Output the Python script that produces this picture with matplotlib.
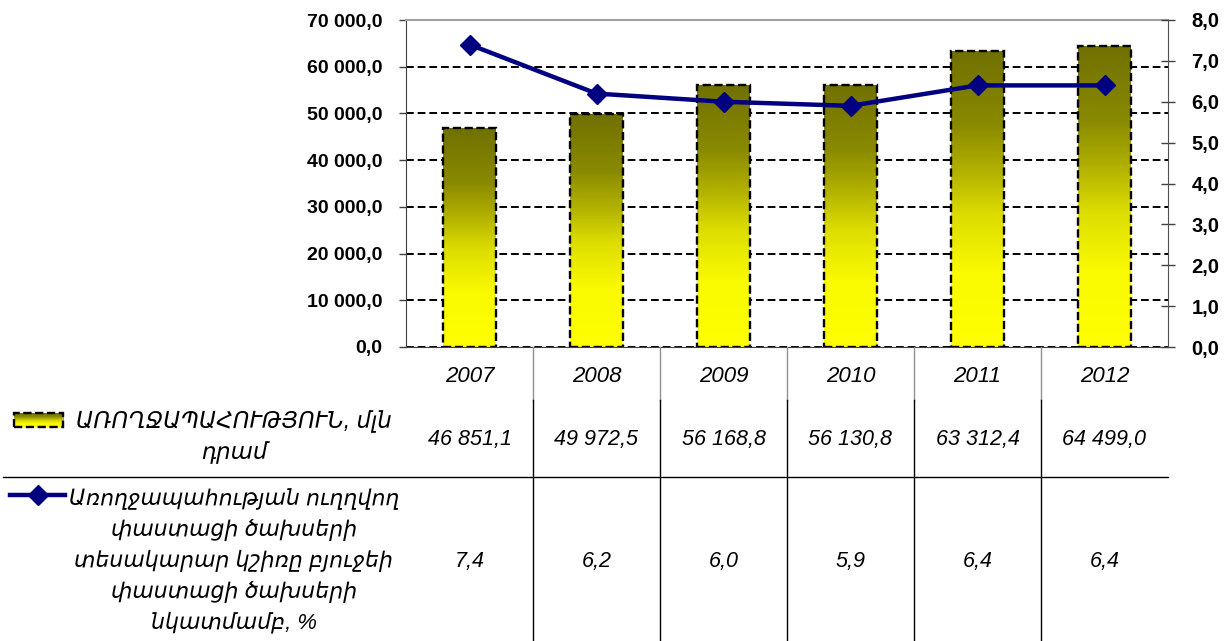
import matplotlib
matplotlib.use("Agg")
import matplotlib.pyplot as plt
import numpy as np
from matplotlib.colors import LinearSegmentedColormap
from matplotlib.lines import Line2D
from matplotlib.patches import Rectangle
from matplotlib.ticker import FuncFormatter
from matplotlib.transforms import blended_transform_factory

years = ["2007", "2008", "2009", "2010", "2011", "2012"]
health_spending = [46851.1, 49972.5, 56168.8, 56130.8, 63312.4, 64499.0]
health_share = [7.4, 6.2, 6.0, 5.9, 6.4, 6.4]

bar_label = "ԱՌՈՂՋԱՊԱՀՈՒԹՅՈՒՆ, մլն\nդրամ"
line_label = ("Առողջապահության ուղղվող\nփաստացի ծախսերի\n"
              "տեսակարար կշիռը բյուջեի\nփաստացի ծախսերի\nնկատմամբ, %")

W, H = 1230, 641
FONT = ["Liberation Sans", "DejaVu Sans"]
plt.rcParams["font.family"] = FONT


def fmt_num(v, pos=None):
    s = f"{v:,.1f}"
    return s.replace(",", " ").replace(".", ",")


def fy(py):
    # figure fraction from pixel row
    return 1 - py / H


fig = plt.figure(figsize=(W / 100, H / 100), dpi=100)
ax = fig.add_axes([406 / W, fy(347), 762 / W, 327 / H])

x = np.arange(len(years))
bar_w = 0.41
olive = LinearSegmentedColormap.from_list(
    "olive", [(0, "#ffff00"), (0.25, "#fafa00"), (0.45, "#dcdc00"),
              (0.6, "#b0b000"), (0.75, "#8a8a00"), (1, "#707000")])
grad = np.linspace(0, 1, 256).reshape(-1, 1)

bars = ax.bar(x, health_spending, width=bar_w, facecolor="none",
              edgecolor="black", linewidth=1.7, linestyle=(0, (3.5, 1.5)), zorder=3)
for b in bars:
    x0 = b.get_x()
    im = ax.imshow(grad, extent=[x0, x0 + b.get_width(), 0, b.get_height()],
                   origin="lower", cmap=olive, aspect="auto", zorder=2,
                   interpolation="bilinear")
    im.set_clip_path(b)

ax.set_xlim(-0.5, len(years) - 0.5)
ax.set_ylim(0, 70000)
ax.set_yticks(np.arange(0, 70001, 10000))
ax.yaxis.set_major_formatter(FuncFormatter(fmt_num))
ax.set_xticks([])
ax.set_axisbelow(True)
ax.yaxis.grid(True, color="black", linestyle=(0, (4, 2)), linewidth=1.4)
ax.tick_params(axis="y", direction="out", length=5, width=1, color="#404040",
               pad=12, labelsize=14)
for lab in ax.get_yticklabels():
    lab.set_fontweight("bold")
ax.spines["top"].set_color("#a0a0a0")
ax.spines["top"].set_linewidth(1.5)
ax.spines["left"].set_color("#404040")
ax.spines["bottom"].set_color("#404040")
ax.spines["right"].set_visible(False)

ax2 = ax.twinx()
ax2.plot(x, health_share, color="#000080", linewidth=3.2, marker="D",
         markersize=10.5, zorder=5)
ax2.set_ylim(0, 8)
ax2.set_yticks(np.arange(0, 8.1, 1))
ax2.yaxis.set_major_formatter(FuncFormatter(lambda v, p: f"{v:.1f}".replace(".", ",")))
ax2.tick_params(axis="y", direction="inout", length=10, width=1, color="#404040",
                pad=12, labelsize=14.5)
for lab in ax2.get_yticklabels():
    lab.set_fontweight("bold")
for s in ["top", "left", "bottom"]:
    ax2.spines[s].set_visible(False)
ax2.spines["right"].set_color("#505050")

# data table below the plot
tr = blended_transform_factory(ax.transData, fig.transFigure)
for i, yr in enumerate(years):
    fig.text(i, fy(376), yr, transform=tr, ha="center", va="center",
             fontsize=16, style="italic")
    fig.text(i, fy(440), fmt_num(health_spending[i]), transform=tr,
             ha="center", va="center", fontsize=15.5, style="italic")
    fig.text(i, fy(562), f"{health_share[i]:.1f}".replace(".", ","),
             transform=tr, ha="center", va="center", fontsize=15.5, style="italic")

for i in range(len(years) - 1):
    xb = i + 0.5
    fig.add_artist(Line2D([xb, xb], [fy(347), fy(400)], transform=tr,
                          color="#909090", linewidth=1))
    fig.add_artist(Line2D([xb, xb], [fy(400), fy(641)], transform=tr,
                          color="black", linewidth=1))
fig.add_artist(Line2D([3 / W, 1168 / W], [fy(477), fy(477)],
                      color="black", linewidth=1))

fig.text(234 / W, fy(437), bar_label, ha="center", va="center",
         fontsize=16.5, style="italic", linespacing=1.45, multialignment="center")
fig.text(234 / W, fy(561), line_label, ha="center", va="center",
         fontsize=15.8, style="italic", linespacing=1.52, multialignment="center")

# legend keys
kax = fig.add_axes([14 / W, fy(427), 49 / W, 14 / H])
kax.imshow(grad, extent=[0, 1, 0, 1], origin="lower", cmap=olive, aspect="auto")
kax.add_patch(Rectangle((0, 0), 1, 1, facecolor="none", edgecolor="black",
                        linewidth=1.7, linestyle=(0, (3.5, 1.5)), clip_on=False))
kax.set_xlim(0, 1)
kax.set_ylim(0, 1)
kax.axis("off")

fig.add_artist(Line2D([10 / W, 65 / W], [fy(495), fy(495)], color="#000080",
                      linewidth=3.2))
fig.add_artist(Line2D([38 / W], [fy(495)], color="#000080", marker="D",
                      markersize=10.5, linestyle="none"))

fig.savefig("out.png", dpi=100)
